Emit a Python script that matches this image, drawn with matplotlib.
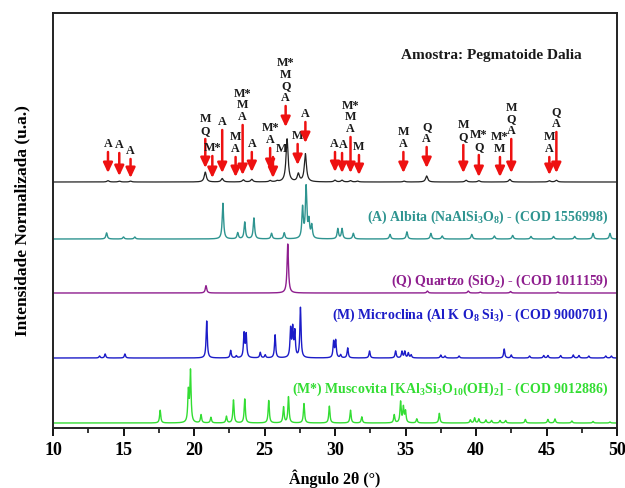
import numpy as np
import matplotlib
matplotlib.use("Agg")
import matplotlib.pyplot as plt
from matplotlib.ticker import MultipleLocator

plt.rcParams['font.family'] = ['Liberation Serif', 'DejaVu Serif']
plt.rcParams['font.weight'] = 'bold'
plt.rcParams['mathtext.fontset'] = 'custom'
plt.rcParams['mathtext.rm'] = 'Liberation Serif:bold'
plt.rcParams['mathtext.it'] = 'Liberation Serif:bold'
plt.rcParams['mathtext.bf'] = 'Liberation Serif:bold'

# ---------------- data (peak positions in 2theta, relative intensities %) -------------
sample_pos = [13.9, 14.7, 15.5, 20.8, 22.0, 23.5, 24.1, 25.4, 25.9, 26.6, 27.4, 27.9,
              30.0, 30.5, 31.1, 31.6, 34.9, 36.5, 39.3, 40.2, 42.4, 45.2, 45.7]
sample_int = [3, 2, 2, 23, 8, 5, 6, 3, 2, 100, 18, 65,
              4, 4, 3, 2, 2, 14, 4, 3, 6, 3, 4]

albita_pos = [13.8, 15.0, 15.8, 22.05, 23.1, 23.6, 24.25, 25.5, 26.4, 27.7, 27.95, 28.15,
              28.35, 30.2, 30.5, 31.3, 33.9, 35.1, 36.8, 37.6, 39.7, 41.3, 42.6, 43.9,
              45.5, 47.0, 48.3, 49.5]
albita_int = [12, 4, 4, 70, 12, 33, 41, 11, 12, 60, 100, 33,
              25, 20, 20, 11, 9, 14, 11, 6, 9, 6, 7, 5,
              5, 5, 11, 11]

quartzo_pos = [20.85, 26.65, 36.55, 39.45, 40.3, 42.45, 45.8]
quartzo_int = [15, 100, 4, 4, 2, 3, 2]

microclina_pos = [13.3, 13.7, 15.1, 20.9, 22.6, 23.0, 23.55, 23.7, 24.7, 25.05, 25.75,
                  26.85, 27.0, 27.15, 27.55, 29.9, 30.05, 30.4, 30.9, 32.45, 34.3, 34.75,
                  34.95, 35.2, 35.4, 37.5, 37.8, 38.8, 42.0, 42.5, 43.8, 44.8, 45.1,
                  46.0, 46.9, 47.3, 48.0, 49.2, 49.6]
microclina_int = [4, 8, 8, 74, 15, 4, 48, 46, 11, 6, 46,
                  56, 56, 50, 100, 32, 34, 6, 20, 14, 14, 13,
                  13, 10, 6, 6, 4, 4, 18, 6, 4, 5, 5,
                  5, 6, 5, 4, 4, 4]

muscovita_pos = [17.6, 19.6, 19.75, 20.5, 21.2, 22.3, 22.8, 23.6, 25.3, 26.35, 26.7,
                 27.8, 29.6, 31.1, 31.9, 34.2, 34.65, 34.85, 35.0, 35.8, 37.4, 39.6,
                 39.9, 40.2, 40.7, 41.1, 41.7, 42.1, 43.5, 45.1, 45.6, 46.8, 48.3, 49.5]
muscovita_int = [25, 60, 100, 16, 11, 13, 45, 47, 44, 31, 51,
                 38, 33, 25, 12, 16, 41, 30, 22, 8, 19, 6,
                 10, 8, 6, 5, 5, 5, 7, 7, 8, 4, 3, 2]

# phase markers on the sample pattern
mark_pos = [13.9, 14.7, 15.5, 20.8, 21.3, 22.0, 22.95, 23.45, 24.1, 25.4, 25.6, 26.5,
            27.35, 27.9, 30.0, 30.5, 31.1, 31.7, 34.85, 36.5, 39.1, 40.2, 41.7, 42.5,
            45.2, 45.7]
mark_lbl = ["A", "A", "A", "M\nQ", "M*", "A", "M\nA", "M*\nM\nA", "A", "M*\nA", "M",
            "M*\nM\nQ\nA", "M", "A", "A", "A", "M*\nM\nA", "M", "M\nA", "Q\nA", "M\nQ",
            "M*\nQ", "M*\nM", "M\nQ\nA", "M\nA", "Q\nA"]
# arrow top / tip, in pixels from the top of the image
mark_top = [152, 153, 159, 139, 156, 130, 157, 125, 152, 148, 157, 106,
            144, 122, 152, 153, 137, 155, 152, 147, 145, 155, 157, 139, 157, 132]
mark_tip = [173, 176, 178, 168, 178, 173, 177, 175, 172, 170, 178, 127,
            165, 143, 172, 173, 173, 175, 173, 168, 173, 177, 177, 173, 175, 173]
# small horizontal shifts of a few labels relative to their arrows (degrees)
mark_dx = {10: 0.58, 14: -0.08, 15: 0.08}

labels = [r"(A) Albita (NaAlSi$_3$O$_8$) - (COD 1556998)",
          r"(Q) Quartzo (SiO$_2$) - (COD 1011159)",
          r"(M) Microclina (Al K O$_8$ Si$_3$) - (COD 9000701)",
          r"(M*) Muscovita [KAl$_3$Si$_3$O$_{10}$(OH)$_2$] - (COD 9012886)"]

# ---------------- plotting ----------------
TOP = 428.0  # pixel row of x-axis
def py(p):
    return TOP - p

x = np.linspace(10, 50, 8001)
def profile(pos, inten, w):
    y = np.zeros_like(x)
    for p, h in zip(pos, inten):
        y += h / 100.0 / (1 + ((x - p) / w) ** 2)
    return y

fig = plt.figure(figsize=(6.25, 4.88), dpi=100)
ax = fig.add_axes([53/625, (488-428)/488, (617-53)/625, (428-13)/488])

series = [
    (sample_pos, sample_int, 0.09, 182, 43, '#222222', 0.9),
    (albita_pos, albita_int, 0.06, 239, 51, '#2e9490', 1.0),
    (quartzo_pos, quartzo_int, 0.06, 293, 49, '#8e1e8e', 1.0),
    (microclina_pos, microclina_int, 0.05, 358, 50, '#1c1cc8', 1.0),
    (muscovita_pos, muscovita_int, 0.05, 423, 51, '#33dd33', 1.0),
]
for pos, inten, w, base, scale, col, lw in series:
    ax.plot(x, py(base) + scale * profile(pos, inten, w), color=col, lw=lw)

txt_y = [217, 281, 315, 389]
txt_c = ['#2e9490', '#8e1e8e', '#1c1cc8', '#33dd33']
for t, yy, c in zip(labels, txt_y, txt_c):
    ax.text(49.4, py(yy), t, color=c, fontsize=10, ha='right', va='center',
            fontweight='bold')

ax.text(41.1, py(55), "Amostra: Pegmatoide Dalia", fontsize=11, ha='center',
        va='center', fontweight='bold', color='#1a1a1a')

for i, (xp, lb, t0, t1) in enumerate(zip(mark_pos, mark_lbl, mark_top, mark_tip)):
    ax.annotate("", xy=(xp, py(t1)), xytext=(xp, py(t0)),
                arrowprops=dict(arrowstyle='-|>,head_length=0.6,head_width=0.28',
                                color='#ee1111', lw=1.8, shrinkA=0, shrinkB=0))
    ax.text(xp + mark_dx.get(i, 0.0), py(t0 - 2), lb, fontsize=8.7, ha='center',
            va='bottom', multialignment='center', linespacing=0.95,
            fontweight='bold', color='#1a1a1a')

ax.set_xlim(10, 50)
ax.set_ylim(0, 415)
ax.set_yticks([])
ax.xaxis.set_major_locator(MultipleLocator(5))
ax.xaxis.set_minor_locator(MultipleLocator(2.5))
ax.tick_params(axis='x', which='major', direction='out', length=6, width=1.3,
               labelsize=13, pad=4)
ax.tick_params(axis='x', which='minor', direction='out', length=3.5, width=1.1)
for lab in ax.get_xticklabels():
    lab.set_fontweight('bold')
for s in ax.spines.values():
    s.set_linewidth(1.4)
    s.set_color('#222222')

ax.set_xlabel("Ângulo 2θ (°)", fontsize=11.5, fontweight='bold', labelpad=8)
ax.set_ylabel("Intensidade Normalizada (u.a.)", fontsize=12.5, fontweight='bold',
              labelpad=16)

fig.savefig("out.png", dpi=100)
